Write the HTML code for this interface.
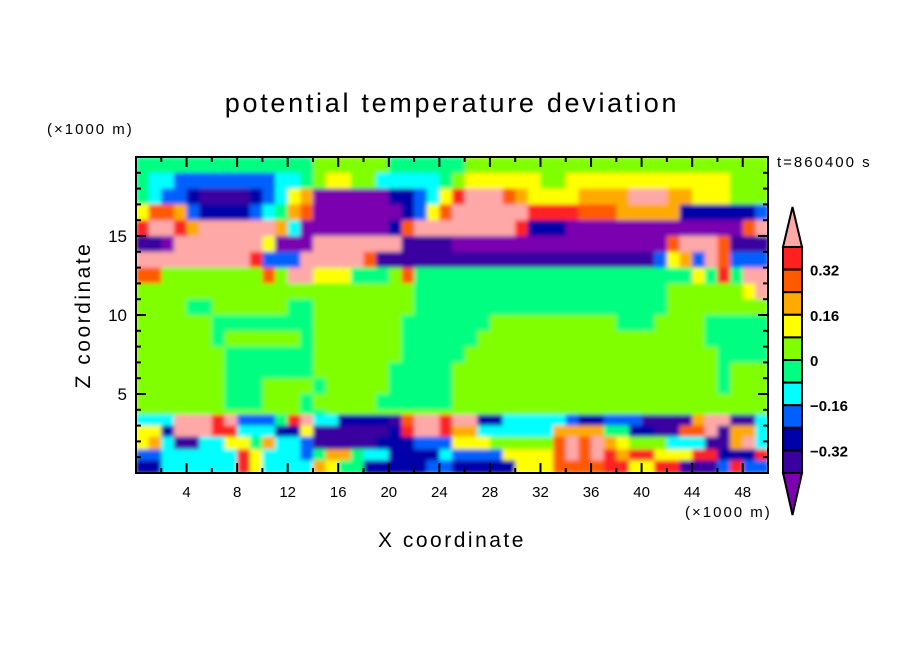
<!DOCTYPE html>
<html><head><meta charset="utf-8"><style>
html,body{margin:0;padding:0;background:#fff;}
svg{display:block;font-family:"Liberation Sans",sans-serif;}
</style></head><body>
<svg id="chart" width="904" height="654" viewBox="0 0 904 654">
  <defs>
    <filter id="soft" x="0" y="0" width="1" height="1" filterUnits="objectBoundingBox">
      <feGaussianBlur stdDeviation="2.2" edgeMode="duplicate"/>
    </filter>
    <clipPath id="plotclip"><rect x="136" y="157" width="632" height="316"/></clipPath>
  </defs>
  <text x="452" y="112" text-anchor="middle" font-size="27" letter-spacing="2.7">potential temperature deviation</text>
  <text x="47" y="134" font-size="15" letter-spacing="2">(×1000 m)</text>
  <text x="777" y="167" font-size="15" letter-spacing="2">t=860400 s</text>
  <text x="90" y="315" font-size="21" letter-spacing="2.5" text-anchor="middle" transform="rotate(-90 90 315)">Z coordinate</text>
  <text x="452" y="547" font-size="21" letter-spacing="2.5" text-anchor="middle">X coordinate</text>
  <text x="685" y="517" font-size="15" letter-spacing="2">(×1000 m)</text>
  <g clip-path="url(#plotclip)"><g id="field" filter="url(#soft)"></g></g>
  <g id="axes"></g>
  <g id="cbar"></g>
</svg>
<script>
const levelCodes = ["P","I","N","B","C","G","L","Y","O","R","D","K"];
const levelColors = ["#7a00b0","#3a00a0","#0000a8","#0060ff","#00ffff","#00ff80","#80ff00","#ffff00","#ffaa00","#ff5a00","#ff2020","#ffa8a8"];
const cbarLabels = ["0.32","0.16","0","\u22120.16","\u22120.32"];
const xTickLabels = [4,8,12,16,20,24,28,32,36,40,44,48];
const yTickLabels = [5,10,15];
const zEdges = [20,19,18,17,16,15,14,13,12,11,10,9,8,7,6,5,4,3.7,3.0,2.3,1.5,0.8,0];
const fieldRows = [
"G14L6G6L24",
"G1C2B8C2G1L1Y2L2C5G1L1Y6L2Y13L3",
"G1C1B2N1I4N1B1C1Y1O1P6N2B1C1Y1D1K3R1O1Y4O4K3O2Y3L3",
"Y1R2O1B1N4B1C1G1O1R1P7N1B1Y1R1K6D4R3O5N6B1",
"D1K2D1O1K6O1C1P7N1R1K3K5D1N3P14R1K1",
"I2P1K7Y1P3K7I4P17R1K3R1I3",
"K9D1B3K5R1I6I16B1Y1O1B1K1R1B3",
"R2L8R1L1K2Y3G3L1R1G3G19Y1G1D1G1K2",
"L22G3G17L6Y1K1",
"L4G2L6G2L8G3G17L8",
"L6G8L7G4G3L10G3L4G5",
"L6G1L6G1L7G4G2L18G5",
"L7G7L7G4G1L20G4",
"L7G7L6G5L21G1L3",
"L7G3L4G1L5G5L21G1L3",
"L7G3L3G1L5G6L25",
"L13G2L10L25",
"C3K3D1K1B3G1D1K1C2N4I1R1K2D1K2N2C5B1N2B3I4O1K2I2C1",
"Y2N1K3D2C3N2Y1I6N1D1K2D1O2C2C4O4G2N2I2R2K1I1O2C1",
"Y1O1C1I2C2Y2G1O1C2B1I5N3B3Y3L5R1K1R1K1O1Y1L3C2C1I2O1K1C1",
"B2C6D1Y1C3B1G1O2G1C2N4C1B4Y4R1K1R1K1D1O1D2Y3D2N3D1",
"N2C6D1Y1C4O1Y1G2N5B2N5Y3R4D2Y2D2I3B1D1B2"
];
const X0=136,X1=768,Y0=157,Y1=473,XMAX=50,ZMAX=20;
const xs = v => X0 + (X1-X0)*v/XMAX;
const ys = v => Y1 - (Y1-Y0)*v/ZMAX;
const NS="http://www.w3.org/2000/svg";
function mk(tag, attrs, parent){const e=document.createElementNS(NS,tag);for(const k in attrs)e.setAttribute(k,attrs[k]);parent.appendChild(e);return e;}
const field=document.getElementById('field');
fieldRows.forEach((row,ri)=>{
  const cells=[];const re=/([A-Z])(\d+)/g;let m;
  while((m=re.exec(row))){for(let i=0;i<+m[2];i++)cells.push(m[1]);}
  let start=0;
  for(let i=1;i<=cells.length;i++){
    if(i===cells.length||cells[i]!==cells[start]){
      const r=mk('rect',{x:xs(start),y:ys(zEdges[ri]),width:xs(i)-xs(start)+0.6,height:ys(zEdges[ri+1])-ys(zEdges[ri])+0.6,fill:levelColors[levelCodes.indexOf(cells[start])]},field);
      
      
      start=i;
    }
  }
});
const axes=document.getElementById('axes');
const frame=mk('rect',{x:X0,y:Y0,width:X1-X0,height:Y1-Y0,fill:'none',stroke:'#000','stroke-width':2},axes);


for(let v=2;v<XMAX;v+=2){
  const major=v%4===0, L=major?10:5;
  mk('line',{x1:xs(v),x2:xs(v),y1:Y1,y2:Y1-L,stroke:'#000','stroke-width':2},axes);
  mk('line',{x1:xs(v),x2:xs(v),y1:Y0,y2:Y0+L,stroke:'#000','stroke-width':2},axes);
}
for(let v=1;v<ZMAX;v++){
  const major=v%5===0, L=major?10:5;
  mk('line',{x1:X0,x2:X0+L,y1:ys(v),y2:ys(v),stroke:'#000','stroke-width':2},axes);
  mk('line',{x1:X1,x2:X1-L,y1:ys(v),y2:ys(v),stroke:'#000','stroke-width':2},axes);
}
xTickLabels.forEach(v=>{
  const t=mk('text',{x:xs(v),y:497,'text-anchor':'middle','font-size':15},axes);t.textContent=v;
  
  
});
yTickLabels.forEach(v=>{
  const t=mk('text',{x:127,y:ys(v)+6,'text-anchor':'end','font-size':17},axes);t.textContent=v;
  
  
});
const cb=document.getElementById('cbar');
const CX0=783,CX1=802,CT=247,CB=473,n=10,h=(CB-CT)/n;
const cbTop=mk('polygon',{points:`${CX0},${CT} ${CX1},${CT} ${(CX0+CX1)/2},207`,fill:levelColors[11],stroke:'#000','stroke-width':2},cb);


const cbBot=mk('polygon',{points:`${CX0},${CB} ${CX1},${CB} ${(CX0+CX1)/2},515`,fill:levelColors[0],stroke:'#000','stroke-width':2},cb);


for(let i=0;i<n;i++){
  const r=mk('rect',{x:CX0,y:CT+i*h,width:CX1-CX0,height:h,fill:levelColors[10-i],stroke:'#000','stroke-width':2},cb);
  
  
}
cbarLabels.forEach((s,i)=>{
  const t=mk('text',{x:810,y:CT+(2*i+1)*h+6,'font-size':15,'font-weight':'bold'},cb);t.textContent=s;
  
  
});
</script>
</body></html>
